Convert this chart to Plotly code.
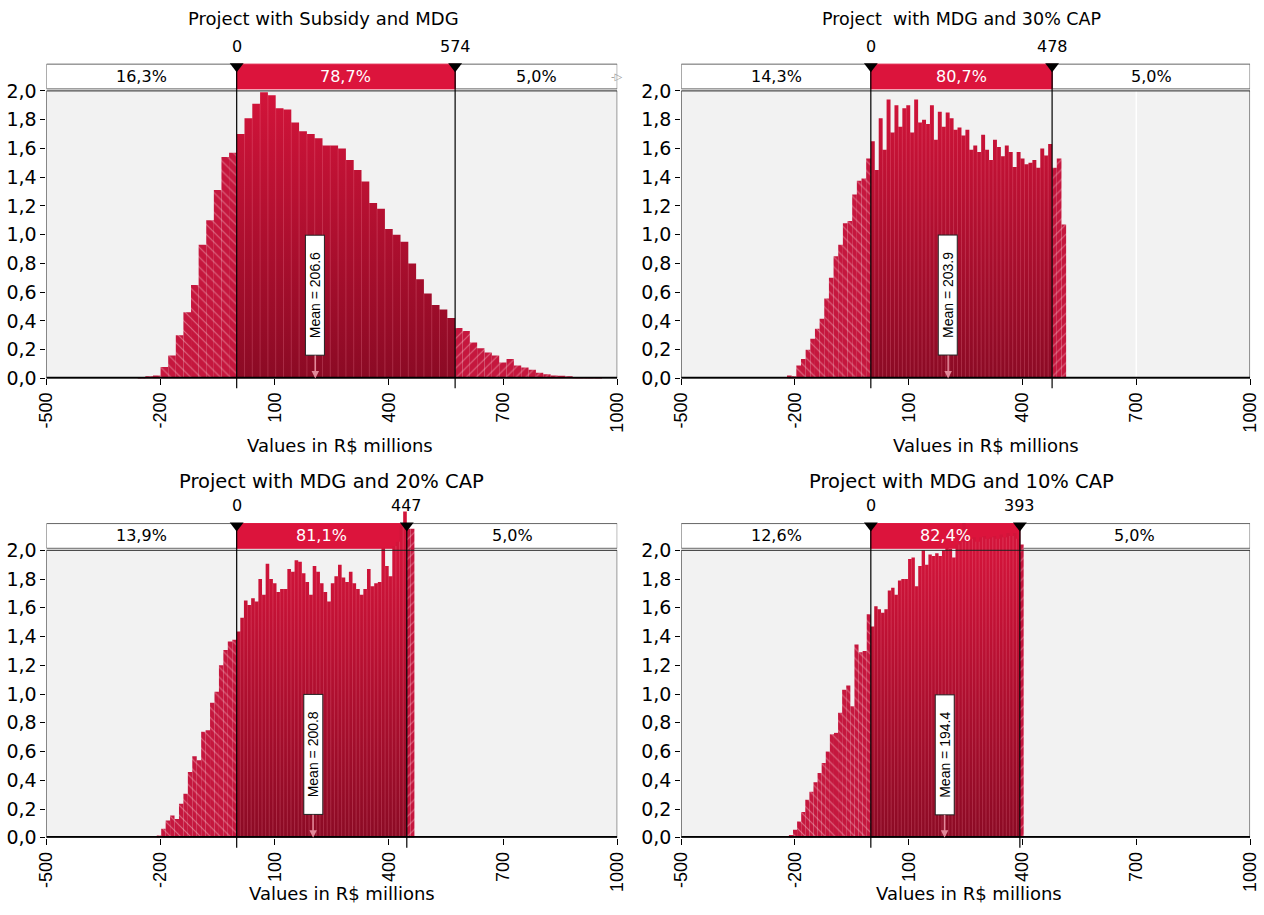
import numpy as np
import plotly.graph_objects as go

# ---------------- data ----------------
titles = ["Project with Subsidy and MDG", "Project  with MDG and 30% CAP",
          "Project with MDG and 20% CAP", "Project with MDG and 10% CAP"]
axis_title = "Values in R$ millions"
x_ticks = [-500, -200, 100, 400, 700, 1000]
y_ticks = [0.0, 0.2, 0.4, 0.6, 0.8, 1.0, 1.2, 1.4, 1.6, 1.8, 2.0]
y_ticklabels = [f"{v:.1f}".replace(".", ",") for v in y_ticks]

data_start = [-260, -221, -210, -216]
lower_delim = [0, 0, 0, 0]
upper_delim = [574, 478, 447, 393]
data_end = [960, 515, 467, 403]
means = [206.6, 203.9, 200.8, 194.4]
share_below = ["16,3%", "14,3%", "13,9%", "12,6%"]
share_between = ["78,7%", "80,7%", "81,1%", "82,4%"]
share_above = ["5,0%", "5,0%", "5,0%", "5,0%"]

# density (x 10^-3) per bin, split at the delimiters
p1_left = [0.01, 0.015, 0.02, 0.08, 0.16, 0.30, 0.46, 0.65, 0.93, 1.10, 1.31, 1.54, 1.57]
p1_mid = [1.70, 1.81, 1.91, 1.99, 1.97, 1.88, 1.87, 1.78, 1.72, 1.70, 1.67, 1.62, 1.62, 1.60,
          1.52, 1.45, 1.37, 1.22, 1.18, 1.04, 1.00, 0.95, 0.80, 0.69, 0.59, 0.51, 0.48, 0.42]
p1_right = [0.35, 0.33, 0.25, 0.21, 0.18, 0.16, 0.11, 0.135, 0.09, 0.075, 0.06, 0.04, 0.028,
            0.02, 0.018, 0.015, 0.01, 0.008, 0.006, 0.004]

p2_left = [0.02, 0.015, 0.09, 0.135, 0.20, 0.275, 0.345, 0.415, 0.555, 0.70, 0.85, 0.93,
           1.08, 1.095, 1.28, 1.375, 1.39, 1.53]
p2_mid = [1.65, 1.45, 1.81, 1.59, 1.94, 1.71, 1.90, 1.75, 1.88, 1.90, 1.71, 1.94, 1.78, 1.80,
          1.77, 1.90, 1.66, 1.855, 1.75, 1.85, 1.81, 1.73, 1.745, 1.69, 1.73, 1.59, 1.62, 1.575,
          1.695, 1.59, 1.52, 1.66, 1.61, 1.545, 1.62, 1.575, 1.47, 1.575, 1.53, 1.49, 1.50,
          1.52, 1.465, 1.60, 1.55, 1.63]
p2_right = [1.465, 1.53, 1.07]

p3_left = [0.016, 0.063, 0.12, 0.156, 0.13, 0.237, 0.307, 0.458, 0.567, 0.54, 0.737, 0.749,
           0.94, 1.016, 1.20, 1.307, 1.365, 1.377]
p3_mid = [1.435, 1.53, 1.65, 1.62, 1.667, 1.644, 1.80, 1.69, 1.907, 1.80, 1.77, 1.71, 1.73,
          1.73, 1.87, 1.85, 1.93, 1.92, 1.84, 1.78, 1.69, 1.89, 1.85, 1.77, 1.71, 1.644, 1.77,
          1.82, 1.90, 1.81, 1.78, 1.85, 1.77, 1.73, 1.69, 1.73, 1.87, 1.75, 1.77, 1.78, 2.02,
          1.89, 1.82, 2.03, 2.06, 2.17, 2.27]
p3_right = [2.15, 2.15]

p4_left = [0.02, 0.056, 0.114, 0.18, 0.265, 0.32, 0.386, 0.45, 0.52, 0.60, 0.72, 0.73, 0.87,
           1.03, 1.06, 0.915, 1.345, 1.29, 1.30, 1.555]
p4_mid = [1.47, 1.61, 1.59, 1.566, 1.59, 1.72, 1.74, 1.69, 1.79, 1.80, 1.80, 1.94, 1.95, 1.75,
          1.89, 2.00, 1.90, 1.97, 1.96, 1.98, 1.96, 2.00, 2.02, 2.01, 1.95, 2.04, 2.06, 2.19,
          2.06, 2.08, 2.09, 2.06, 2.09, 2.10, 2.08, 2.09, 2.10, 2.08, 2.11, 2.09, 2.12, 2.10,
          2.12, 2.08]
p4_right = [2.04]

lefts = [p1_left, p2_left, p3_left, p4_left]
mids = [p1_mid, p2_mid, p3_mid, p4_mid]
rights = [p1_right, p2_right, p3_right, p4_right]

# ---------------- geometry / style ----------------
W, H = 1264, 915
PX_PER_UNIT = 145.5
Y_TOP = 2.32
panels_px = [dict(x0=37, x1=617, base=383), dict(x0=682, x1=1260, base=383),
             dict(x0=37, x1=617, base=848), dict(x0=682, x1=1260, base=848)]
title_pos = [(319, 19), (967, 19), (327, 487), (967, 487)]
title_size = [18, 17.5, 19.5, 19.5]
axtitle_pos = [(335, 451), (992, 451), (337, 904.5), (974, 904.5)]
BOX_Y0, BOX_Y1 = 2.014, 2.186
FONT = "DejaVu Sans"
ARIAL = "Liberation Sans, Arial"
HATCH_BG = "#C5173E"
HATCH_FG = "#F3B7C3"
CRIMSON = "#DC143C"


def fx(p):
    return p / W


def fy(p):
    return 1 - p / H


fig = go.Figure()
shapes, annotations = [], []
layout_axes = {}

for i in range(4):
    n = i + 1
    xr, yr = f"x{n}", f"y{n}"
    g = panels_px[i]
    top_px = g["base"] - Y_TOP * PX_PER_UNIT
    layout_axes[f"xaxis{n}"] = dict(
        domain=[fx(g["x0"]), fx(g["x1"])], range=[-500, 1000], anchor=yr,
        tickvals=x_ticks, ticktext=[str(v) for v in x_ticks], tickangle=-90,
        ticks="outside", ticklen=6, tickcolor="black", showgrid=False, zeroline=False,
        showline=False, tickfont=dict(family=ARIAL, size=18, color="black"), fixedrange=True)
    layout_axes[f"yaxis{n}"] = dict(
        domain=[fy(g["base"]), fy(top_px)], range=[0, Y_TOP], anchor=xr,
        tickvals=y_ticks, ticktext=y_ticklabels, ticks="outside", ticklen=5,
        tickcolor="black", showgrid=False, zeroline=False, showline=False,
        tickfont=dict(family=FONT, size=19, color="black"), fixedrange=True)

    a, b = data_start[i], lower_delim[i]
    c, d = upper_delim[i], data_end[i]

    # left hatched bars
    e = np.linspace(a, b, len(lefts[i]) + 1)
    fig.add_trace(go.Bar(x=(e[:-1] + e[1:]) / 2, y=lefts[i], width=np.diff(e), xaxis=xr, yaxis=yr,
                         marker=dict(color=HATCH_BG, line=dict(width=0),
                                     pattern=dict(shape="\\", fgcolor=HATCH_FG, size=7, solidity=0.16)),
                         showlegend=False, hoverinfo="skip"))
    # right hatched bars
    e = np.linspace(c, d, len(rights[i]) + 1)
    fig.add_trace(go.Bar(x=(e[:-1] + e[1:]) / 2, y=rights[i], width=np.diff(e), xaxis=xr, yaxis=yr,
                         marker=dict(color=HATCH_BG, line=dict(width=0),
                                     pattern=dict(shape="/", fgcolor=HATCH_FG, size=7, solidity=0.16)),
                         showlegend=False, hoverinfo="skip"))
    # middle solid region (gradient filled step histogram)
    h = mids[i]
    e = np.linspace(b, c, len(h) + 1)
    fig.add_trace(go.Scatter(x=e, y=list(h) + [h[-1]], mode="lines",
                             line=dict(shape="hv", width=0, color="#B01030"),
                             fill="tozeroy",
                             fillgradient=dict(type="vertical", start=0, stop=2.0,
                                               colorscale=[[0, "#8A0A24"], [1, "#D2143A"]]),
                             xaxis=xr, yaxis=yr, showlegend=False, hoverinfo="skip"))
    # light bin separators
    sx, sy = [], []
    for k in range(1, len(h)):
        sx += [e[k], e[k], None]
        sy += [0, min(h[k - 1], h[k]), None]
    fig.add_trace(go.Scatter(x=sx, y=sy, mode="lines", line=dict(color="rgba(255,150,170,0.30)", width=0.8),
                             xaxis=xr, yaxis=yr, showlegend=False, hoverinfo="skip"))
    # delimiter triangles
    fig.add_trace(go.Scatter(x=[b, c], y=[2.172, 2.172], mode="markers", cliponaxis=False,
                             marker=dict(symbol="triangle-down", size=12, color="black"),
                             xaxis=xr, yaxis=yr, showlegend=False, hoverinfo="skip"))

    # background of plot area
    shapes.append(dict(type="rect", xref=xr, yref=yr, x0=-500, x1=1000, y0=0, y1=2.0,
                       fillcolor="#F2F2F2", line=dict(width=0), layer="below"))
    if i == 1:
        shapes.append(dict(type="line", xref=xr, yref=yr, x0=700, x1=700, y0=0, y1=2.0,
                           line=dict(color="white", width=1.5), layer="below"))
    # delimiter box
    shapes.append(dict(type="rect", xref=xr, yref=yr, x0=-500, x1=b, y0=BOX_Y0, y1=BOX_Y1,
                       fillcolor="white", line=dict(color="#666", width=1), layer="below"))
    shapes.append(dict(type="rect", xref=xr, yref=yr, x0=c, x1=1000, y0=BOX_Y0, y1=BOX_Y1,
                       fillcolor="white", line=dict(color="#666", width=1), layer="below"))
    shapes.append(dict(type="rect", xref=xr, yref=yr, x0=b, x1=c, y0=BOX_Y0, y1=BOX_Y1,
                       fillcolor=CRIMSON, line=dict(color=CRIMSON, width=1), layer="below"))
    # plot border and thick baseline
    shapes.append(dict(type="rect", xref=xr, yref=yr, x0=-500, x1=1000, y0=0, y1=2.0,
                       line=dict(color="#222", width=1), layer="above"))
    shapes.append(dict(type="line", xref=xr, yref=yr, x0=-500, x1=1000, y0=0, y1=0,
                       line=dict(color="black", width=3.5), layer="above"))
    # delimiter lines
    for xv in (b, c):
        shapes.append(dict(type="line", xref=xr, yref="paper", x0=xv, x1=xv,
                           y0=fy(g["base"] + 10), y1=fy(g["base"] - BOX_Y1 * PX_PER_UNIT),
                           line=dict(color="black", width=1.2), layer="above"))

    # texts
    tx, ty = title_pos[i]
    annotations.append(dict(x=fx(tx), y=fy(ty), xref="paper", yref="paper", text=titles[i],
                            xanchor="center", yanchor="middle", showarrow=False,
                            font=dict(family=FONT, size=title_size[i], color="black")))
    ax_, ay_ = axtitle_pos[i]
    annotations.append(dict(x=fx(ax_), y=fy(ay_), xref="paper", yref="paper", text=axis_title,
                            xanchor="center", yanchor="middle", showarrow=False,
                            font=dict(family=FONT, size=18, color="black")))
    for xv in (b, c):
        annotations.append(dict(x=xv, y=2.31, xref=xr, yref=yr, text=str(xv), showarrow=False,
                                xanchor="center", yanchor="middle",
                                font=dict(family=FONT, size=16, color="black")))
    ymid = (BOX_Y0 + BOX_Y1) / 2
    for xc, txt, col in (((-500 + b) / 2, share_below[i], "black"),
                         ((b + c) / 2, share_between[i], "white"),
                         ((c + 1000) / 2, share_above[i], "black")):
        annotations.append(dict(x=xc, y=ymid, xref=xr, yref=yr, text=txt, showarrow=False,
                                xanchor="center", yanchor="middle",
                                font=dict(family=FONT, size=16, color=col)))
    if i == 0:
        annotations.append(dict(x=1000, y=ymid, xref=xr, yref=yr, text="-▷", showarrow=False,
                                xanchor="center", yanchor="middle",
                                font=dict(family=FONT, size=10, color="#999")))
    pad = "\u00a0" * 4
    annotations.append(dict(x=means[i], y=0, xref=xr, yref=yr, text=f"{pad}Mean = {means[i]:.1f}{pad}",
                            textangle=-90, showarrow=True, ax=0, ay=-83, arrowhead=2, arrowsize=1,
                            arrowwidth=1.5, arrowcolor="#E3899A", standoff=0,
                            bgcolor="white", bordercolor="#222", borderwidth=1, borderpad=1,
                            font=dict(family=ARIAL, size=14, color="black")))

fig.update_layout(width=W, height=H, margin=dict(l=0, r=0, t=0, b=0),
                  paper_bgcolor="white", plot_bgcolor="white", barmode="overlay",
                  shapes=shapes, annotations=annotations, showlegend=False, **layout_axes)

fig.write_html("out.html", config={"displayModeBar": False},
               post_script="document.body.style.margin='0';")
